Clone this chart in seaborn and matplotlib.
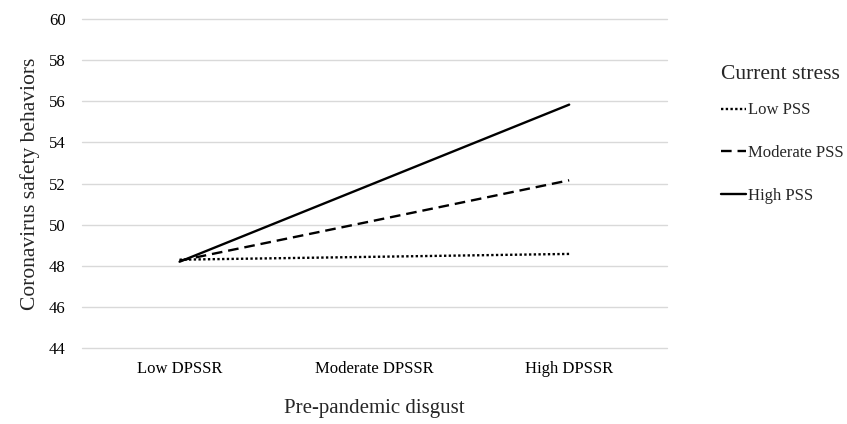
import numpy as np
import pandas as pd
import matplotlib
matplotlib.use("Agg")
import matplotlib.pyplot as plt
import seaborn as sns

# Data
disgust_levels = ["Low DPSSR", "Moderate DPSSR", "High DPSSR"]
stress_levels = ["Low PSS", "Moderate PSS", "High PSS"]
low_pss = [48.30, 48.44, 48.58]
moderate_pss = [48.25, 50.20, 52.16]
high_pss = [48.20, 52.02, 55.84]

df = pd.DataFrame({
    "disgust": disgust_levels * 3,
    "stress": np.repeat(stress_levels, 3),
    "value": low_pss + moderate_pss + high_pss,
})

sns.set_theme(style="white")
plt.rcParams["font.family"] = ["Liberation Serif", "DejaVu Serif"]

fig = plt.figure(figsize=(8.47, 4.24), dpi=100)
ax = fig.add_axes([0.097, 0.179, 0.690, 0.776])

sns.lineplot(
    data=df, x="disgust", y="value", style="stress",
    style_order=stress_levels,
    dashes={"Low PSS": (1, 1), "Moderate PSS": (4.5, 2.5), "High PSS": ""},
    color="black", linewidth=1.7, ax=ax, sort=False,
)

ax.set_xlim(-0.5, 2.5)
ax.set_ylim(44, 60)
ax.set_yticks(range(44, 61, 2))
ax.grid(axis="y", color="#d9d9d9", linewidth=1.0)
for gl in ax.get_ygridlines():
    gl.set_clip_on(False)
ax.set_axisbelow(True)
for s in ax.spines.values():
    s.set_visible(False)
ax.tick_params(axis="both", length=0, labelsize=12, colors="black")
ax.tick_params(axis="y", pad=12)
ax.tick_params(axis="x", pad=9)

ax.set_xlabel("Pre-pandemic disgust", fontsize=15, labelpad=16)
ax.set_ylabel("Coronavirus safety behaviors", fontsize=15.5, labelpad=6)

leg = ax.legend(
    title="Current stress", loc="upper left", bbox_to_anchor=(1.068, 0.905),
    frameon=False, fontsize=12, title_fontsize=15.5, handlelength=1.5,
    handletextpad=0.1, labelspacing=1.6,
)
leg._legend_box.align = "left"
leg._legend_box.sep = 13  # tighter gap between title and first entry

fig.savefig("out.png", dpi=100)
